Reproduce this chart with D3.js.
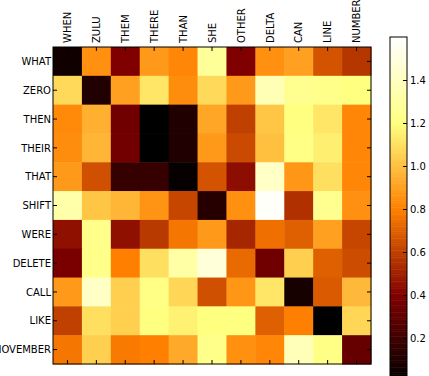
<!DOCTYPE html>
<html>
<head>
<meta charset="utf-8">
<script src="https://cdn.jsdelivr.net/npm/d3@7"></script>
<style>
  body { margin: 0; background: #fff; }
  svg { display: block; font-family: "DejaVu Sans", sans-serif; }
</style>
</head>
<body>
<svg id="chart" width="429" height="376"></svg>
<script>
const columns = ["WHEN", "ZULU", "THEM", "THERE", "THAN", "SHE", "OTHER", "DELTA", "CAN", "LINE", "NUMBER"];
const rows = ["WHAT", "ZERO", "THEN", "THEIR", "THAT", "SHIFT", "WERE", "DELETE", "CALL", "LIKE", "NOVEMBER"];

// one array per row, values in column order
const whatRow     = [0.05, 0.85, 0.40, 0.88, 0.82, 1.28, 0.40, 0.85, 0.90, 0.66, 0.57];
const zeroRow     = [1.08, 0.10, 0.90, 1.12, 0.84, 1.08, 0.88, 1.37, 1.25, 1.23, 1.20];
const thenRow     = [0.83, 0.95, 0.35, 0.00, 0.10, 0.92, 0.60, 1.02, 1.20, 1.12, 0.82];
const theirRow    = [0.84, 0.97, 0.36, 0.00, 0.10, 0.88, 0.63, 1.00, 1.22, 1.15, 0.82];
const thatRow     = [0.88, 0.65, 0.17, 0.17, 0.02, 0.66, 0.44, 1.42, 0.87, 1.10, 0.82];
const shiftRow    = [1.33, 1.02, 0.97, 0.86, 0.62, 0.12, 0.85, 1.58, 0.55, 1.25, 0.85];
const wereRow     = [0.45, 1.23, 0.45, 0.58, 0.77, 0.88, 0.52, 0.75, 0.70, 0.90, 0.62];
const deleteRow   = [0.38, 1.23, 0.80, 1.10, 1.32, 1.48, 0.73, 0.35, 1.05, 0.70, 0.64];
const callRow     = [0.88, 1.42, 1.05, 1.22, 1.07, 0.65, 0.87, 1.12, 0.07, 0.68, 0.98];
const likeRow     = [0.60, 1.10, 1.05, 1.20, 1.16, 1.20, 1.20, 0.70, 0.80, 0.00, 1.07];
const novemberRow = [0.77, 1.05, 0.78, 0.80, 0.93, 1.23, 0.85, 0.82, 1.38, 1.22, 0.32];

const colorbarTicks = [0.0, 0.2, 0.4, 0.6, 0.8, 1.0, 1.2, 1.4];

const matrix = [whatRow, zeroRow, thenRow, theirRow, thatRow, shiftRow,
  wereRow, deleteRow, callRow, likeRow, novemberRow];

let svg = d3.select("#chart");

let plotLeft = 53, plotRight = 371, plotTop = 47, plotBottom = 364;
let vmax = 1.6;

// afmhot colormap
let color = d3.scaleLinear()
  .domain([0, 0.4, 0.8, 1.2, 1.6])
  .range(["#000000", "#800000", "#ff8000", "#ffff80", "#ffffff"])
  .interpolate(d3.interpolateRgb)
  .clamp(true);

let xScale = d3.scaleBand().domain(columns).range([plotLeft, plotRight]);
let yScale = d3.scaleBand().domain(rows).range([plotTop, plotBottom]);

let cells = [];
matrix.forEach((r, i) => r.forEach((v, j) => cells.push({ row: rows[i], col: columns[j], value: v })));

svg.selectAll("rect.cell")
  .data(cells)
  .enter()
  .append("rect")
  .attr("class", "cell")
  .attr("x", d => xScale(d.col))
  .attr("y", d => yScale(d.row))
  .attr("width", xScale.bandwidth() + 0.5)
  .attr("height", yScale.bandwidth() + 0.5)
  .attr("fill", d => color(d.value));

// frame
svg.append("rect")
  .attr("x", plotLeft).attr("y", plotTop)
  .attr("width", plotRight - plotLeft).attr("height", plotBottom - plotTop)
  .attr("fill", "none").attr("stroke", "#000").attr("stroke-width", 1);

let tickLen = 4;

// top and bottom ticks
columns.forEach(c => {
  let x = xScale(c) + xScale.bandwidth() / 2;
  svg.append("line").attr("x1", x).attr("x2", x).attr("y1", plotTop).attr("y2", plotTop + tickLen).attr("stroke", "#000");
  svg.append("line").attr("x1", x).attr("x2", x).attr("y1", plotBottom).attr("y2", plotBottom - tickLen).attr("stroke", "#000");
});

// left and right ticks
rows.forEach(r => {
  let y = yScale(r) + yScale.bandwidth() / 2;
  svg.append("line").attr("x1", plotLeft).attr("x2", plotLeft + tickLen).attr("y1", y).attr("y2", y).attr("stroke", "#000");
  svg.append("line").attr("x1", plotRight).attr("x2", plotRight - tickLen).attr("y1", y).attr("y2", y).attr("stroke", "#000");
});

// column labels, rotated
svg.selectAll("text.col")
  .data(columns)
  .enter()
  .append("text")
  .attr("class", "col")
  .attr("transform", d => "translate(" + (xScale(d) + xScale.bandwidth() / 2 + 3.7) + "," + (plotTop - 4) + ")rotate(-90)")
  .attr("text-anchor", "start")
  .style("font-size", "10px")
  .text(d => d);

// row labels
svg.selectAll("text.row")
  .data(rows)
  .enter()
  .append("text")
  .attr("class", "row")
  .attr("x", plotLeft - 2)
  .attr("y", d => yScale(d) + yScale.bandwidth() / 2 + 3.7)
  .attr("text-anchor", "end")
  .style("font-size", "10px")
  .text(d => d);

// colorbar
let cbLeft = 390, cbRight = 407, cbTop = 37, cbBottom = 381;
let cbScale = d3.scaleLinear().domain([0, vmax]).range([cbBottom, cbTop]);
let steps = d3.range(0, 200).map(i => i * vmax / 200);

svg.selectAll("rect.cb")
  .data(steps)
  .enter()
  .append("rect")
  .attr("class", "cb")
  .attr("x", cbLeft)
  .attr("y", d => cbScale(d + vmax / 200))
  .attr("width", cbRight - cbLeft)
  .attr("height", cbScale(0) - cbScale(vmax / 200) + 0.5)
  .attr("fill", d => color(d + vmax / 400));

svg.append("rect")
  .attr("x", cbLeft).attr("y", cbTop)
  .attr("width", cbRight - cbLeft).attr("height", cbBottom - cbTop)
  .attr("fill", "none").attr("stroke", "#000").attr("stroke-width", 1);

svg.append("g")
  .attr("transform", "translate(" + cbRight + ",0)")
  .call(d3.axisRight(cbScale).tickValues(colorbarTicks).tickFormat(d3.format(".1f")).tickSizeInner(-4).tickSizeOuter(0).tickPadding(3))
  .call(g => g.select(".domain").remove())
  .call(g => g.selectAll("text").style("font-size", "10px").style("font-family", "DejaVu Sans").attr("fill", "#000"));
</script>
</body>
</html>
